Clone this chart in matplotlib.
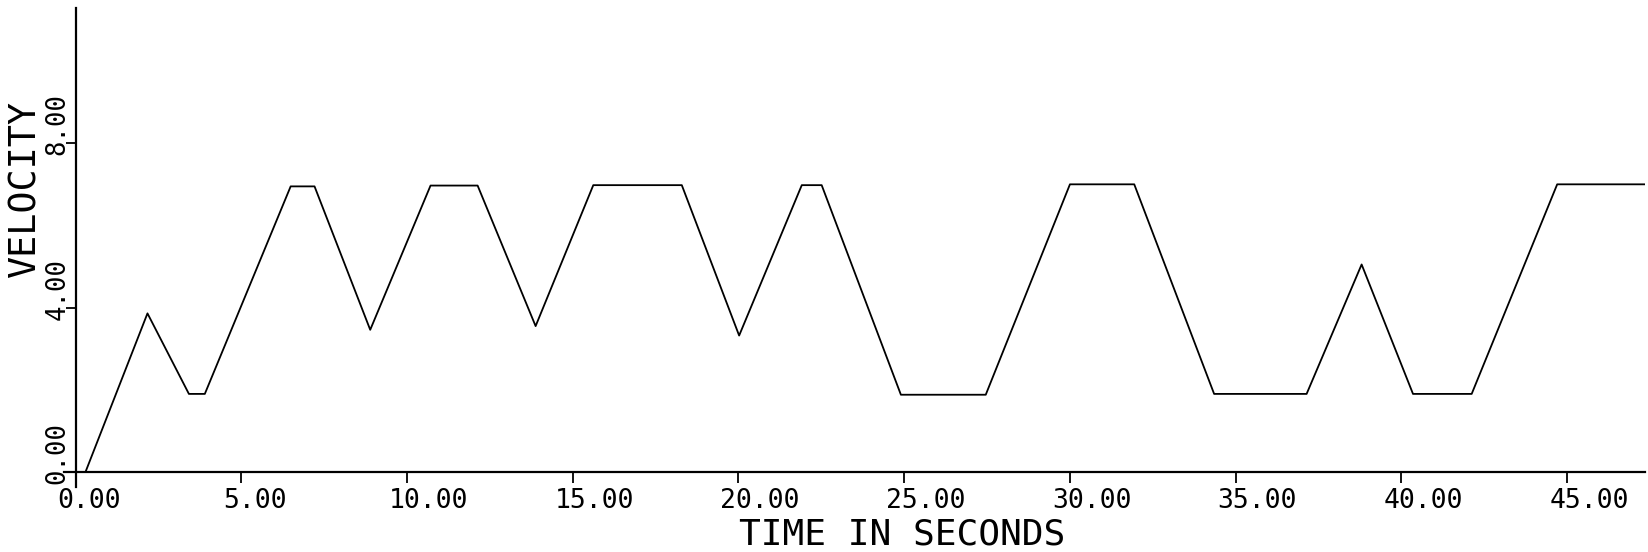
import matplotlib
matplotlib.use("Agg")
import matplotlib.pyplot as plt
from matplotlib.transforms import offset_copy

# data (time in s, velocity)
time_s = [0.0, 0.3, 2.17, 3.42, 3.90, 6.49, 7.21, 8.89, 10.71, 12.13, 13.88,
          15.62, 18.29, 20.02, 21.91, 22.51, 24.90, 27.46, 30.00, 31.94,
          34.35, 37.14, 38.80, 40.35, 42.12, 44.70, 47.40]
velocity = [0.0, 0.0, 3.86, 1.90, 1.90, 6.95, 6.95, 3.46, 6.97, 6.97, 3.55,
            6.98, 6.98, 3.32, 6.98, 6.98, 1.88, 1.88, 7.00, 7.00,
            1.90, 1.90, 5.05, 1.90, 1.90, 7.00, 7.00]

xticks = [0, 5, 10, 15, 20, 25, 30, 35, 40, 45]
xlabels = ["0.00", "5.00", "10.00", "15.00", "20.00", "25.00", "30.00",
           "35.00", "40.00", "45.00"]
yticks = [0, 4, 8]
ylabels = ["0.00", "4.00", "8.00"]

font = "DejaVu Sans Mono"

fig = plt.figure(figsize=(16.48, 5.52), dpi=100)
ax = fig.add_axes([0.0388, 0.1174, 0.9594, 0.8688])

ax.plot(time_s, velocity, color="black", lw=1.3)

ax.set_xlim(-0.35, 47.35)
ax.set_ylim(-0.37, 11.3)

# axes crossing at the origin, like the old plotter output
for s in ["top", "right"]:
    ax.spines[s].set_visible(False)
ax.spines["left"].set_position(("data", 0))
ax.spines["bottom"].set_position(("data", 0))
ax.spines["left"].set_linewidth(1.6)
ax.spines["bottom"].set_linewidth(1.6)

ax.set_xticks(xticks)
ax.set_yticks(yticks)
ax.tick_params(axis="x", direction="out", length=8.0, width=1.3,
               labelbottom=False)
ax.tick_params(axis="y", direction="out", length=7.2, width=1.3,
               labelleft=False)

# tick labels: x labels start a bit left of the tick, y labels rotated
for t, lab in zip(xticks, xlabels):
    tr = offset_copy(ax.transData, fig=fig, x=-18, y=-16, units="dots")
    ax.text(t, 0, lab, transform=tr, ha="left", va="top",
            fontsize=19, family=font)
for t, lab in zip(yticks, ylabels):
    tr = offset_copy(ax.transData, fig=fig, x=-5, y=-12, units="dots")
    ax.text(0, t, lab, transform=tr, ha="right", va="bottom",
            rotation=90, fontsize=18.5, family=font)

ax.set_xlabel("TIME IN SECONDS", fontsize=26, family=font)
ax.xaxis.set_label_coords(0.53, -0.064)
ax.set_ylabel("VELOCITY", fontsize=26.5, family=font)
ax.yaxis.label.set_rotation_mode("default")
ax.yaxis.label.set_va("center")
ax.yaxis.set_label_coords(-0.0246, 0.622)

fig.savefig("out.png", dpi=100)
